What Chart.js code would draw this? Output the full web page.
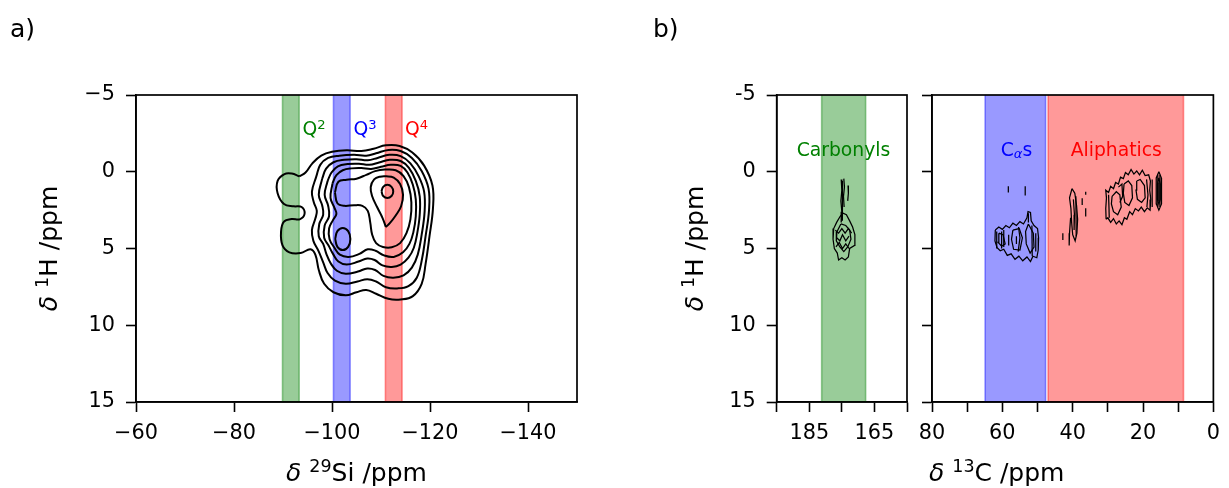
<!DOCTYPE html>
<html>
<head>
<meta charset="utf-8">
<script src="https://cdn.jsdelivr.net/npm/chart.js@4.4.1/dist/chart.umd.min.js"></script>
<style>
  html, body { margin: 0; padding: 0; background: #fff; }
  #wrap { position: relative; width: 1229px; height: 488px; overflow: hidden; }
  canvas { position: absolute; top: 0; }
</style>
</head>
<body>
<div id="wrap">
  <canvas id="si" width="620" height="488" style="left:0px"></canvas>
  <canvas id="c13a" width="280" height="488" style="left:640px"></canvas>
  <canvas id="c13b" width="329" height="488" style="left:900px"></canvas>
</div>
<script>
// 1H-29Si and 1H-13C HETCOR maps with shaded assignment regions

// ---- axes ----
const siTicks = [-140, -120, -100, -80, -60];
const hTicks = [-5, 0, 5, 10, 15];
const c13LeftTicks = [195, 185, 175, 165, 155];
const c13LeftLabels = [185, 165];
const c13RightTicks = [80, 70, 60, 50, 40, 30, 20, 10, 0];
const c13RightLabels = [80, 60, 40, 20, 0];

// ---- shaded regions (ppm) ----
const q2Band = [-89.9, -93.3];
const q3Band = [-100.3, -103.7];
const q4Band = [-110.9, -114.3];
const carbonylBand = [181.2, 167.7];
const calphaBand = [64.9, 47.7];
const aliphaticBand = [47.0, 8.5];

// region labels: [x, y] of the text anchor
const q2Label = [-94.0, -2.4];
const q3Label = [-104.4, -2.4];
const q4Label = [-114.9, -2.4];
const carbonylLabel = [174.5, -1.0];
const calphaLabel = [56.0, -1.0];
const aliphaticLabel = [27.6, -1.0];

// ---- 29Si contours, outermost first: [δSi, δH] ----
const siLevel1 = [
  [-93.3, 0.30], [-94.6, 0.05], [-96.0, -0.55], [-97.8, -1.05], [-100.0, -1.30], [-103.0, -1.40],
  [-106.0, -1.35], [-108.5, -1.50], [-111.0, -1.72], [-113.8, -1.68], [-116.4, -1.25], [-118.8, -0.40],
  [-120.5, 0.90], [-120.6, 2.40], [-119.9, 4.20], [-119.1, 6.00], [-118.3, 7.30], [-116.5, 8.10],
  [-114.0, 8.32], [-111.5, 8.28], [-109.0, 7.95], [-107.0, 7.70], [-105.0, 7.85], [-102.8, 8.05],
  [-100.3, 7.85], [-98.4, 7.30], [-97.3, 6.40], [-96.6, 5.40], [-95.6, 5.05], [-93.6, 5.30],
  [-91.3, 5.25], [-89.9, 4.80], [-89.6, 3.90], [-90.2, 3.25], [-91.8, 3.08], [-93.4, 3.10],
  [-94.4, 2.75], [-93.8, 2.30], [-92.2, 2.25], [-90.2, 2.10], [-88.9, 1.40], [-88.9, 0.60],
  [-90.3, 0.15], [-91.8, 0.12], [-93.3, 0.30]
];
const siLevel2 = [
  [-96.8, 0.30], [-97.6, -0.45], [-99.2, -0.90], [-101.5, -1.05], [-104.5, -1.10], [-107.0, -1.05],
  [-109.0, -1.20], [-111.5, -1.42], [-114.0, -1.35], [-116.3, -0.90], [-118.3, -0.05], [-119.7, 1.10],
  [-119.8, 2.50], [-119.1, 4.20], [-118.3, 5.80], [-117.3, 6.90], [-115.6, 7.45], [-113.3, 7.60],
  [-111.0, 7.52], [-109.0, 7.15], [-107.2, 7.00], [-105.2, 7.15], [-102.8, 7.30], [-100.6, 7.10],
  [-99.1, 6.60], [-98.2, 5.90], [-97.3, 5.20], [-96.2, 4.50], [-95.9, 3.80], [-96.6, 3.05],
  [-96.9, 2.55], [-96.3, 2.00], [-95.9, 1.30], [-96.8, 0.30]
];
const siLevel3 = [
  [-98.0, 0.45], [-98.8, -0.20], [-100.3, -0.62], [-102.5, -0.78], [-105.0, -0.82], [-107.3, -0.75],
  [-109.3, -0.90], [-111.7, -1.10], [-114.0, -1.02], [-116.0, -0.55], [-117.7, 0.30], [-118.8, 1.30],
  [-118.9, 2.60], [-118.3, 4.10], [-117.5, 5.40], [-116.3, 6.25], [-114.6, 6.75], [-112.5, 6.90],
  [-110.5, 6.78], [-108.8, 6.40], [-107.2, 6.30], [-105.3, 6.50], [-102.8, 6.65], [-101.0, 6.45],
  [-99.8, 6.00], [-98.9, 5.40], [-98.2, 4.70], [-97.3, 4.20], [-97.4, 3.40], [-98.2, 2.80],
  [-98.0, 2.20], [-97.3, 1.50], [-98.0, 0.45]
];
const siLevel4 = [
  [-99.1, 0.60], [-99.9, 0.05], [-101.2, -0.35], [-103.2, -0.50], [-105.5, -0.52], [-107.6, -0.45],
  [-109.6, -0.60], [-111.8, -0.78], [-114.0, -0.70], [-115.7, -0.25], [-117.1, 0.60], [-117.9, 1.60],
  [-117.9, 2.80], [-117.4, 4.00], [-116.7, 4.95], [-115.6, 5.60], [-114.0, 6.05], [-112.2, 6.20],
  [-110.3, 6.10], [-108.7, 5.75], [-107.2, 5.65], [-105.4, 5.85], [-103.0, 6.05], [-101.3, 5.85],
  [-100.2, 5.35], [-99.3, 4.80], [-98.4, 4.30], [-98.5, 3.50], [-99.4, 2.90], [-99.2, 2.20],
  [-98.5, 1.50], [-99.1, 0.60]
];
const siLevel5 = [
  [-100.1, 0.75], [-100.9, 0.22], [-102.2, -0.10], [-104.0, -0.22], [-106.0, -0.24], [-108.0, -0.18],
  [-110.0, -0.32], [-112.0, -0.45], [-114.0, -0.38], [-115.4, 0.05], [-116.5, 0.85], [-117.1, 1.80],
  [-117.1, 2.90], [-116.6, 3.95], [-115.8, 4.70], [-114.5, 5.25], [-112.6, 5.55], [-110.6, 5.45],
  [-108.9, 5.15], [-107.3, 5.05], [-105.6, 5.35], [-103.4, 5.55], [-101.6, 5.40], [-100.5, 4.95],
  [-99.5, 4.40], [-99.4, 3.70], [-100.2, 3.15], [-100.9, 2.75], [-100.5, 2.35], [-99.7, 1.70],
  [-100.1, 0.75]
];
const siLevel6 = [
  [-100.6, 1.35], [-101.3, 0.65], [-103.0, 0.52], [-105.0, 0.45], [-107.0, 0.20], [-108.8, -0.04],
  [-110.8, -0.14], [-113.0, -0.10], [-114.6, 0.28], [-115.7, 1.00], [-116.2, 2.00], [-116.0, 3.10],
  [-115.2, 4.00], [-113.9, 4.65], [-112.2, 4.92], [-110.4, 4.90], [-109.0, 4.65], [-108.2, 4.10],
  [-107.8, 3.30], [-107.3, 2.55], [-106.2, 2.22], [-104.5, 2.18], [-102.5, 2.22], [-101.1, 2.05],
  [-100.6, 1.35]
];
const siQ3Lower = [
  [-100.65, 4.38], [-101.1, 3.87], [-102.2, 3.66], [-103.3, 3.87], [-103.75, 4.38],
  [-103.3, 4.89], [-102.2, 5.10], [-101.1, 4.89], [-100.65, 4.38]
];
const siQ4Drop = [
  [-111.0, 3.60], [-110.3, 3.00], [-109.2, 2.30], [-108.2, 1.60], [-107.9, 1.00], [-108.6, 0.50],
  [-109.8, 0.32], [-111.1, 0.30], [-112.6, 0.38], [-113.9, 0.80], [-114.5, 1.50], [-114.1, 2.25],
  [-113.0, 2.85], [-111.8, 3.35], [-111.0, 3.60]
];
const siQ4Core = [
  [-110.1, 1.28], [-110.45, 0.98], [-111.3, 0.85], [-112.15, 0.98], [-112.5, 1.28],
  [-112.15, 1.58], [-111.3, 1.71], [-110.45, 1.58], [-110.1, 1.28]
];

// ---- 13C contours: [δC, δH] ----
const carbonylTraces = [
  [[175.2, 0.5], [175.0, 1.2], [175.3, 1.9], [175.0, 2.6], [175.2, 3.3]],
  [[174.4, 0.45], [174.2, 1.0], [174.5, 1.6], [174.3, 2.3]],
  [[174.8, 0.6], [174.9, 1.5], [174.7, 2.4], [174.9, 3.2]],
  [[173.1, 0.9], [173.0, 1.4], [173.2, 1.9]],
  [[175.5, 2.9], [176.6, 3.3], [177.5, 3.7], [177.7, 4.4], [177.3, 5.0], [176.4, 5.3], [176.0, 5.75],
   [175.0, 5.6], [174.0, 5.75], [173.0, 5.55], [172.6, 5.0], [171.1, 4.8], [171.0, 4.1], [171.7, 3.6],
   [172.6, 3.2], [173.6, 2.8], [174.6, 2.7], [175.5, 2.9]],
  [[175.3, 3.4], [176.5, 3.9], [176.7, 4.5], [175.6, 4.9], [174.4, 5.2], [173.2, 4.9], [172.2, 4.4],
   [172.6, 3.8], [173.8, 3.5], [175.3, 3.4]],
  [[177.0, 3.8], [176.0, 4.0], [175.0, 3.7], [174.0, 4.0], [173.0, 3.7], [172.0, 4.0]],
  [[176.6, 4.3], [175.6, 4.5], [174.8, 4.1], [173.8, 4.5], [172.8, 4.2]],
  [[176.8, 4.9], [175.8, 4.6], [174.8, 5.0], [173.8, 4.7], [172.8, 5.0]]
];
const calphaTraces = [
  [[62.0, 3.8], [61.0, 3.6], [60.0, 3.75], [59.0, 3.5], [58.0, 3.65], [57.0, 3.35], [56.0, 3.5],
   [55.0, 3.25], [54.0, 3.4], [53.0, 3.0], [52.7, 2.6], [52.0, 2.65], [51.8, 3.2], [51.0, 3.5],
   [50.0, 3.7], [49.7, 4.3], [49.8, 5.1], [50.2, 5.6], [51.3, 5.5], [52.0, 5.85], [53.0, 5.55],
   [54.2, 5.8], [55.3, 5.5], [56.4, 5.7], [57.5, 5.35], [58.6, 5.45], [59.6, 5.05], [60.6, 5.15],
   [61.5, 4.95], [62.1, 4.5], [62.0, 3.8]],
  [[61.0, 4.0], [59.8, 4.1], [59.2, 4.7], [60.2, 4.85], [61.2, 4.6], [61.0, 4.0]],
  [[57.0, 3.8], [55.2, 3.7], [54.3, 4.3], [55.0, 5.1], [56.8, 5.05], [57.4, 4.4], [57.0, 3.8]],
  [[52.6, 3.4], [51.2, 4.0], [51.0, 4.9], [52.1, 5.3], [53.2, 4.7], [53.4, 3.9], [52.6, 3.4]],
  [[58.2, 4.1], [58.2, 4.8]],
  [[56.0, 4.2], [56.0, 4.7]],
  [[61.6, 3.9], [61.6, 5.0]],
  [[60.2, 3.9], [60.2, 5.0]],
  [[59.6, 3.8], [59.6, 4.9]],
  [[55.4, 3.6], [55.0, 4.3], [55.5, 5.2]],
  [[51.6, 3.5], [51.5, 5.5]],
  [[52.6, 2.7], [52.6, 3.3]],
  [[50.5, 4.0], [50.5, 5.2]],
  [[58.3, 0.95], [58.3, 1.35]],
  [[53.5, 0.95], [53.5, 1.55]]
];
const aliphaticTraces = [
  [[40.2, 1.1], [39.4, 1.4], [38.9, 2.2], [38.6, 3.1], [38.8, 4.0], [39.3, 4.5], [40.0, 4.1],
   [40.3, 3.3], [40.5, 2.4], [40.9, 1.7], [40.2, 1.1]],
  [[39.8, 1.8], [39.5, 2.8], [39.6, 3.8]],
  [[39.1, 1.6], [39.0, 4.2]],
  [[40.6, 3.0], [40.9, 4.0], [41.0, 4.8]],
  [[42.8, 4.0], [42.8, 4.45]],
  [[37.3, 1.73], [37.3, 2.16]],
  [[36.3, 1.3], [36.3, 1.5]],
  [[36.3, 2.38], [36.3, 2.92]],
  [[30.5, 3.1], [30.6, 2.4], [30.4, 1.7], [30.6, 1.2], [29.8, 1.35], [29.2, 0.95], [28.4, 1.1],
   [27.8, 0.7], [27.0, 0.8], [26.4, 0.35], [25.6, 0.45], [25.0, 0.05], [24.2, 0.2], [23.4, -0.15],
   [22.6, 0.15], [21.8, -0.05], [21.0, 0.2], [20.2, -0.1], [19.4, 0.25], [18.4, 0.2], [17.9, 0.6],
   [18.1, 1.2], [17.8, 1.8], [18.0, 2.5], [18.8, 2.35], [19.6, 2.6], [20.5, 2.3], [21.3, 2.55],
   [22.2, 2.4], [23.0, 2.8], [23.8, 2.6], [24.6, 3.1], [25.3, 3.0], [26.0, 3.45], [26.8, 3.2],
   [27.6, 3.4], [28.4, 3.05], [29.2, 3.3], [30.0, 3.0], [30.5, 3.1]],
  [[28.8, 1.6], [27.6, 1.3], [26.6, 1.5], [26.2, 2.3], [27.2, 2.8], [28.4, 2.6], [29.0, 2.1], [28.8, 1.6]],
  [[25.4, 0.8], [24.2, 0.6], [23.2, 0.9], [23.0, 1.7], [24.0, 2.2], [25.2, 2.0], [25.6, 1.4], [25.4, 0.8]],
  [[21.8, 0.6], [20.8, 0.5], [19.6, 0.9], [19.4, 1.7], [20.4, 2.0], [21.6, 1.8], [22.0, 1.2], [21.8, 0.6]],
  [[29.8, 1.5], [29.6, 3.0]],
  [[27.0, 1.0], [26.0, 0.8], [25.8, 1.6], [26.6, 2.0]],
  [[19.0, 0.5], [18.6, 1.5], [18.9, 2.3]],
  [[17.4, 0.5], [17.4, 2.3]],
  [[15.5, 0.0], [14.8, 0.4], [14.7, 1.2], [14.8, 2.1], [15.5, 2.5], [16.2, 2.1], [16.3, 1.2], [16.2, 0.4], [15.5, 0.0]],
  [[15.5, 0.4], [15.1, 0.8], [15.1, 1.8], [15.5, 2.1], [15.9, 1.8], [15.9, 0.8], [15.5, 0.4]],
  [[15.5, 0.7], [15.5, 1.9]],
  [[15.2, 0.2], [15.2, 2.3]],
  [[15.8, 0.2], [15.8, 2.3]]
];

// ---- drawing helpers ----
const FAMILY = '"DejaVu Sans", sans-serif';
Chart.defaults.font.family = FAMILY;

const GREEN = '#008000', BLUE = '#0000ff', RED = '#ff0000';

function drawRich(ctx, parts, x, y, size, color, align, rotate) {
  ctx.save();
  ctx.translate(x, y);
  if (rotate) ctx.rotate(-Math.PI / 2);
  ctx.fillStyle = color;
  ctx.textAlign = 'left';
  ctx.textBaseline = 'alphabetic';
  const fontOf = p => (p.italic ? 'italic ' : '') + (size * (p.scale || 1)) + 'px ' + FAMILY;
  const widths = parts.map(p => { ctx.font = fontOf(p); return ctx.measureText(p.t).width; });
  const total = widths.reduce((a, b) => a + b, 0);
  let cx = align === 'center' ? -total / 2 : 0;
  parts.forEach((p, i) => {
    ctx.font = fontOf(p);
    ctx.fillText(p.t, cx, -(p.rise || 0) * size);
    cx += widths[i];
  });
  ctx.restore();
}

const titleH = [{ t: 'δ', italic: true }, { t: ' ' }, { t: '1', scale: 0.7, rise: 0.36 }, { t: 'H /ppm' }];
const titleSi = [{ t: 'δ', italic: true }, { t: ' ' }, { t: '29', scale: 0.7, rise: 0.36 }, { t: 'Si /ppm' }];
const titleC = [{ t: 'δ', italic: true }, { t: ' ' }, { t: '13', scale: 0.7, rise: 0.36 }, { t: 'C /ppm' }];
const sup = d => [{ t: 'Q' }, { t: d, scale: 0.7, rise: 0.3 }];

function bands(list) {
  return {
    id: 'bands',
    beforeDatasetsDraw(chart) {
      const { ctx, chartArea: a, scales: { x } } = chart;
      list.forEach(([range, rgb]) => {
        const p0 = x.getPixelForValue(range[0]);
        const p1 = x.getPixelForValue(range[1]);
        ctx.save();
        ctx.fillStyle = `rgba(${rgb},0.4)`;
        ctx.fillRect(Math.min(p0, p1), a.top, Math.abs(p1 - p0), a.bottom - a.top);
        ctx.strokeStyle = `rgba(${rgb},0.4)`;
        ctx.lineWidth = 1.6;
        ctx.beginPath();
        ctx.moveTo(p0, a.top); ctx.lineTo(p0, a.bottom);
        ctx.moveTo(p1, a.top); ctx.lineTo(p1, a.bottom);
        ctx.stroke();
        ctx.restore();
      });
    }
  };
}

const frame = {
  id: 'frame',
  afterDraw(chart) {
    const { ctx, chartArea: a } = chart;
    ctx.save();
    ctx.strokeStyle = '#000';
    ctx.lineWidth = 1.7;
    ctx.strokeRect(a.left, a.top, a.right - a.left, a.bottom - a.top);
    ctx.restore();
  }
};

function texts(fn) {
  return { id: 'texts', afterDraw(chart) { fn(chart.ctx, chart.chartArea, chart.scales); } };
}

function scale(min, max, ticks, label, fit, horizontal) {
  return {
    type: 'linear', min, max, reverse: true,
    afterBuildTicks: s => { s.ticks = ticks.map(v => ({ value: v })); },
    afterFit: s => { if (horizontal) s.height = fit; else s.width = fit; },
    ticks: {
      autoSkip: false, maxRotation: 0, minRotation: 0,
      padding: horizontal ? 9 : 11, color: '#000',
      font: { size: 20.8 }, callback: label
    },
    grid: { drawOnChartArea: false, drawTicks: true, tickLength: 10, tickWidth: 1.6, tickColor: '#000' },
    border: { display: true, color: '#000', width: 1.6 }
  };
}

function traces(list, width, tension) {
  return list.map(pts => ({
    data: pts.map(([x, y]) => ({ x, y })),
    showLine: true, fill: false, pointRadius: 0, pointHoverRadius: 0,
    borderColor: '#000', borderWidth: width, tension
  }));
}

const minus = v => (v < 0 ? '\u2212' + Math.abs(v) : String(v));
const common = {
  responsive: false, animation: false, events: [],
  plugins: { legend: { display: false }, tooltip: { enabled: false } }
};

// ---- a) 29Si ----
new Chart(document.getElementById('si'), {
  type: 'scatter',
  data: {
    datasets: traces([siLevel1, siLevel2, siLevel3, siLevel4, siLevel5, siLevel6,
      siQ3Lower, siQ4Drop, siQ4Core], 2.0, 0.4)
  },
  options: {
    ...common,
    layout: { padding: { top: 95, right: 43, left: 0, bottom: 0 } },
    scales: {
      x: scale(-150, -60, siTicks, minus, 86, true),
      y: scale(-5, 15, hTicks, minus, 136, false)
    }
  },
  plugins: [
    bands([[q2Band, '0,128,0'], [q3Band, '0,0,255'], [q4Band, '255,0,0']]),
    frame,
    texts((ctx, a, s) => {
      const px = p => [s.x.getPixelForValue(p[0]), s.y.getPixelForValue(p[1])];
      drawRich(ctx, sup('2'), ...px(q2Label), 18.75, GREEN, 'left');
      drawRich(ctx, sup('3'), ...px(q3Label), 18.75, BLUE, 'left');
      drawRich(ctx, sup('4'), ...px(q4Label), 18.75, RED, 'left');
      drawRich(ctx, titleSi, (a.left + a.right) / 2, 481, 25, '#000', 'center');
      drawRich(ctx, titleH, 57, (a.top + a.bottom) / 2, 25, '#000', 'center', true);
      drawRich(ctx, [{ t: 'a)' }], 10, 37, 25, '#000', 'left');
    })
  ]
});

// ---- b) 13C, carbonyl window ----
new Chart(document.getElementById('c13a'), {
  type: 'scatter',
  data: { datasets: traces(carbonylTraces, 1.25, 0) },
  options: {
    ...common,
    layout: { padding: { top: 95, right: 13, left: 0, bottom: 0 } },
    scales: {
      x: scale(155, 195, c13LeftTicks, v => (c13LeftLabels.includes(v) ? String(v) : ''), 86, true),
      y: scale(-5, 15, hTicks, v => String(v), 136.7, false)
    }
  },
  plugins: [
    bands([[carbonylBand, '0,128,0']]),
    frame,
    texts((ctx, a, s) => {
      const px = p => [s.x.getPixelForValue(p[0]), s.y.getPixelForValue(p[1])];
      drawRich(ctx, [{ t: 'Carbonyls' }], ...px(carbonylLabel), 18.75, GREEN, 'center');
      drawRich(ctx, titleH, 63, (a.top + a.bottom) / 2, 25, '#000', 'center', true);
      drawRich(ctx, [{ t: 'b)' }], 13, 37, 25, '#000', 'left');
    })
  ]
});

// ---- b) 13C, aliphatic window ----
new Chart(document.getElementById('c13b'), {
  type: 'scatter',
  data: { datasets: traces([...calphaTraces, ...aliphaticTraces], 1.25, 0) },
  options: {
    ...common,
    layout: { padding: { top: 95, right: 12.2, left: 0, bottom: 0 } },
    scales: {
      x: scale(0, 80, c13RightTicks, v => (c13RightLabels.includes(v) ? String(v) : ''), 86, true),
      y: scale(-5, 15, hTicks, () => '', 32, false)
    }
  },
  plugins: [
    bands([[calphaBand, '0,0,255'], [aliphaticBand, '255,0,0']]),
    frame,
    texts((ctx, a, s) => {
      const px = p => [s.x.getPixelForValue(p[0]), s.y.getPixelForValue(p[1])];
      drawRich(ctx, [{ t: 'C' }, { t: 'α', italic: true, scale: 0.7, rise: -0.1 }, { t: 's' }],
        ...px(calphaLabel), 18.75, BLUE, 'center');
      drawRich(ctx, [{ t: 'Aliphatics' }], ...px(aliphaticLabel), 18.75, RED, 'center');
      drawRich(ctx, titleC, 96.75, 481, 25, '#000', 'center');
    })
  ]
});
</script>
</body>
</html>
